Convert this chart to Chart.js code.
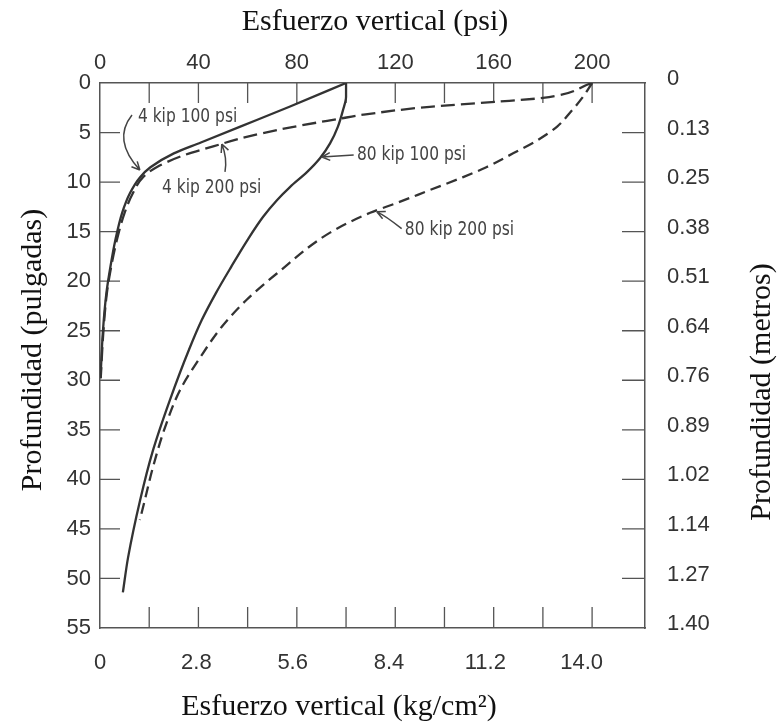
<!DOCTYPE html>
<html lang="es">
<head>
<meta charset="utf-8">
<title>Esfuerzo vertical vs profundidad</title>
<script src="https://cdn.jsdelivr.net/npm/chart.js@4.4.1/dist/chart.umd.min.js"></script>
<style>
  html, body { margin: 0; padding: 0; background: #fff; }
  #chart { display: block; }
</style>
</head>
<body>
<canvas id="chart" width="779" height="728"></canvas>
<script>
// Values: depth in inches, vertical stress in psi
const depth4k100 = [0, 2.4, 4.4, 6.0, 7.1, 8.5, 9.5, 11.1, 13.1, 15.9, 18.6, 21.2, 25.0, 29.8];
const stress4k100 = [100, 77, 57, 41, 30, 20.5, 16.3, 12.2, 9, 6.2, 4.2, 2.6, 1.2, 0.2];

const depth4k200 = [0, 1.5, 1.9, 2.4, 3.2, 3.6, 4.5, 5.6, 6.4, 7.3, 8.5, 9.5, 11.1, 13.1, 15.9, 18.6, 21.2, 25.0, 29.8];
const stress4k200 = [200, 180, 161, 134, 107, 97.5, 77, 57, 46, 34, 23, 17.5, 13.4, 10, 6.8, 4.5, 2.8, 1.4, 0.3];

const depth80k100 = [0, 1.4, 2.7, 4.4, 6.1, 7.6, 9.0, 10.5, 11.8, 13.5, 15.9, 18.6, 21.2, 23.9, 26.9, 32, 37.1, 42.1, 47.9, 51.4];
const stress80k100 = [100, 100, 98.8, 96.7, 93.5, 89.4, 84.1, 77.2, 72, 66.3, 59.8, 53.2, 47.1, 41.4, 36.2, 28.4, 21.5, 16.3, 11.4, 9.3];

const depth80k200 = [0, 1.4, 3.0, 4.4, 5.8, 7.1, 8.5, 9.5, 10.8, 12.1, 13.1, 15.1, 19.2, 21.9, 24.6, 27.7, 31, 34.7, 38.8, 42.1, 44.1];
const stress80k200 = [200, 196.3, 191, 185.8, 177.6, 167.9, 157, 147.6, 134.1, 120.7, 109.8, 93.5, 72, 59.5, 49.5, 40.7, 32.5, 26.5, 21.5, 18.2, 16.2];

const seriesNames = ['4 kip 100 psi', '4 kip 200 psi', '80 kip 100 psi', '80 kip 200 psi'];

// Axis ticks
const psiTicks = [0, 40, 80, 120, 160, 200];
const psiMarks = [20, 40, 60, 80, 100, 120, 140, 160, 180, 200];
const kgTicks = [0, 2.8, 5.6, 8.4, 11.2, 14.0];
const kgLabels = ['0', '2.8', '5.6', '8.4', '11.2', '14.0'];
const depthTicks = [0, 5, 10, 15, 20, 25, 30, 35, 40, 45, 50, 55];
const metroLabels = ['0', '0.13', '0.25', '0.38', '0.51', '0.64', '0.76', '0.89', '1.02', '1.14', '1.27', '1.40'];

const INK = '#333';
const tickFont = { family: '"Liberation Sans", Arial, sans-serif', size: 22 };

function toPoints(stress, depth) {
    return stress.map((s, i) => ({ x: s, y: depth[i] }));
}

function curve(label, stress, depth, dash) {
    return {
        label: label,
        data: toPoints(stress, depth),
        borderColor: INK,
        borderWidth: 2.3,
        borderDash: dash,
        pointRadius: 0,
        cubicInterpolationMode: 'monotone',
        fill: false
    };
}

function fixedTicks(values) {
    return scale => {
        scale.ticks = values.map(v => ({ value: v }));
    };
}

// Short tick marks pointing into the plot, as in the printed figure
const frameTicks = {
    id: 'frameTicks',
    beforeDatasetsDraw(chart) {
        const { ctx, chartArea: a, scales } = chart;
        ctx.save();
        ctx.strokeStyle = '#555';
        ctx.lineWidth = 1.3;
        ctx.beginPath();
        psiMarks.forEach(v => {
            const x = scales.x.getPixelForValue(v);
            ctx.moveTo(x, a.top);
            ctx.lineTo(x, a.top + 20);
            ctx.moveTo(x, a.bottom);
            ctx.lineTo(x, a.bottom - 21);
        });
        depthTicks.slice(1, -1).forEach(v => {
            const y = scales.y.getPixelForValue(v);
            ctx.moveTo(a.left, y);
            ctx.lineTo(a.left + 20, y);
            ctx.moveTo(a.right, y);
            ctx.lineTo(a.right - 23, y);
        });
        ctx.stroke();
        ctx.restore();
    }
};

// Curve labels with hand-drawn style arrows (positions in psi / inches)
const notes = [
    { text: seriesNames[0], at: [15.4, 3.43], from: [13.0, 3.23], via: [4.9, 5.75], to: [16.2, 8.78] },
    { text: seriesNames[1], at: [25.2, 10.6], from: [50.8, 8.98], via: [51.8, 7.57], to: [49.5, 6.16] },
    { text: seriesNames[2], at: [104.4, 7.27], from: [103.1, 7.27], via: [96.6, 7.37], to: [90.2, 7.47] },
    { text: seriesNames[3], at: [123.9, 14.8], from: [122.6, 14.7], via: [116.1, 13.4], to: [112.5, 13.0] }
];

const curveNotes = {
    id: 'curveNotes',
    afterDatasetsDraw(chart) {
        const { ctx, scales: { x, y } } = chart;
        const px = p => [x.getPixelForValue(p[0]), y.getPixelForValue(p[1])];
        ctx.save();
        ctx.strokeStyle = '#444';
        ctx.fillStyle = '#444';
        ctx.lineWidth = 1.5;
        ctx.font = '20px "DejaVu Sans Condensed", "Liberation Sans Narrow", sans-serif';
        ctx.textAlign = 'left';
        ctx.textBaseline = 'middle';
        notes.forEach(n => {
            const [tx, ty] = px(n.at);
            const [fx, fy] = px(n.from);
            const [cx, cy] = px(n.via);
            const [ex, ey] = px(n.to);
            // narrow the face a little, the original lettering is condensed
            ctx.save();
            ctx.translate(tx, ty);
            ctx.scale(0.86, 1);
            ctx.fillText(n.text, 0, 0);
            ctx.restore();
            ctx.beginPath();
            ctx.moveTo(fx, fy);
            ctx.quadraticCurveTo(cx, cy, ex, ey);
            const ang = Math.atan2(ey - cy, ex - cx);
            [0.45, -0.45].forEach(d => {
                ctx.moveTo(ex, ey);
                ctx.lineTo(ex - 9 * Math.cos(ang + d), ey - 9 * Math.sin(ang + d));
            });
            ctx.stroke();
        });
        ctx.restore();
    }
};

const axisTitles = {
    id: 'axisTitles',
    afterDraw(chart) {
        const { ctx } = chart;
        ctx.save();
        ctx.fillStyle = '#111';
        ctx.font = '30px "Liberation Serif", "Times New Roman", serif';
        ctx.textAlign = 'center';
        ctx.textBaseline = 'middle';
        ctx.fillText('Esfuerzo vertical (psi)', 375, 22);
        ctx.fillText('Esfuerzo vertical (kg/cm²)', 339, 707);
        [[33, 350, 'Profundidad (pulgadas)'], [762, 392, 'Profundidad (metros)']].forEach(([tx, ty, t]) => {
            ctx.save();
            ctx.translate(tx, ty);
            ctx.rotate(-Math.PI / 2);
            ctx.fillText(t, 0, 0);
            ctx.restore();
        });
        ctx.restore();
    }
};

const frameBorder = { display: true, color: '#555', width: 1.5 };
const noGrid = { display: false, drawTicks: false };

new Chart(document.getElementById('chart'), {
    type: 'line',
    data: {
        datasets: [
            curve(seriesNames[0], stress4k100, depth4k100, []),
            curve(seriesNames[1], stress4k200, depth4k200, [14, 6]),
            curve(seriesNames[2], stress80k100, depth80k100, []),
            curve(seriesNames[3], stress80k200, depth80k200, [11, 6])
        ]
    },
    options: {
        indexAxis: 'y',
        responsive: false,
        animation: false,
        devicePixelRatio: 1,
        layout: { padding: 0 },
        plugins: {
            legend: { display: false },
            tooltip: { enabled: false }
        },
        scales: {
            x: {
                type: 'linear',
                position: 'top',
                min: 0,
                max: 221.5,
                afterBuildTicks: fixedTicks(psiTicks),
                afterFit: s => { s.height = 83; },
                grid: noGrid,
                border: frameBorder,
                ticks: { font: tickFont, color: INK, padding: 7, autoSkip: false, maxRotation: 0 }
            },
            xKg: {
                type: 'linear',
                position: 'bottom',
                min: 0,
                max: 15.84,
                afterBuildTicks: fixedTicks(kgTicks),
                afterFit: s => { s.height = 100; },
                grid: noGrid,
                border: frameBorder,
                ticks: {
                    font: tickFont, color: INK, padding: 22, autoSkip: false, maxRotation: 0,
                    callback: (v, i) => kgLabels[i]
                }
            },
            y: {
                type: 'linear',
                position: 'left',
                reverse: true,
                min: 0,
                max: 55,
                afterBuildTicks: fixedTicks(depthTicks),
                afterFit: s => { s.width = 100; },
                grid: noGrid,
                border: frameBorder,
                ticks: { font: tickFont, color: INK, padding: 9, autoSkip: false }
            },
            yM: {
                type: 'linear',
                position: 'right',
                reverse: true,
                min: 0,
                max: 55,
                afterBuildTicks: fixedTicks(depthTicks),
                afterFit: s => { s.width = 134; },
                grid: noGrid,
                border: frameBorder,
                ticks: {
                    font: tickFont, color: INK, padding: 22, autoSkip: false, labelOffset: -4,
                    callback: (v, i) => metroLabels[i]
                }
            }
        }
    },
    plugins: [frameTicks, curveNotes, axisTitles]
});
</script>
</body>
</html>
